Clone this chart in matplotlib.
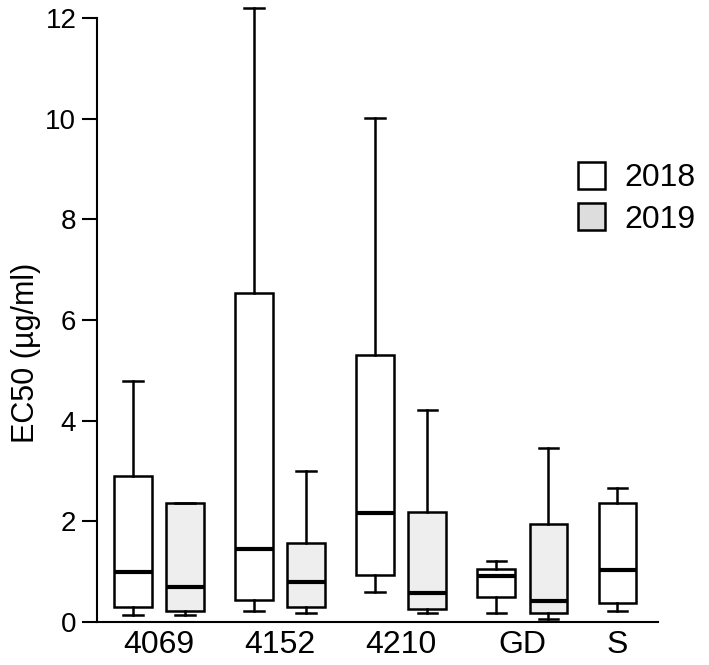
import matplotlib.pyplot as plt
from matplotlib.patches import Patch

plt.rcParams['font.family'] = ['Liberation Sans', 'DejaVu Sans']

groups = ['4069', '4152', '4210', 'GD', 'S']
# 2018 boxes (all five groups)
low_2018 = [0.13, 0.22, 0.60, 0.17, 0.22]
q1_2018 = [0.29, 0.43, 0.93, 0.50, 0.38]
med_2018 = [0.99, 1.46, 2.17, 0.91, 1.03]
q3_2018 = [2.91, 6.54, 5.31, 1.05, 2.36]
high_2018 = [4.79, 12.2, 10.02, 1.22, 2.66]
# 2019 boxes (no S)
low_2019 = [0.13, 0.17, 0.17, 0.05]
q1_2019 = [0.21, 0.29, 0.25, 0.17]
med_2019 = [0.70, 0.79, 0.58, 0.41]
q3_2019 = [2.36, 1.56, 2.19, 1.94]
high_2019 = [2.36, 3.0, 4.21, 3.45]


def make_stats(lo, q1, med, q3, hi):
    return [dict(whislo=a, q1=b, med=c, q3=d, whishi=e, fliers=[])
            for a, b, c, d, e in zip(lo, q1, med, q3, hi)]


fig = plt.figure(figsize=(7.09, 6.65), dpi=100)
ax = fig.add_axes([0.137, 0.0647, 0.791, 0.908])

off = 0.215
pos_2018 = [i - off for i in range(len(groups))]
pos_2019 = [i + off for i in range(len(low_2019))]

common = dict(widths=0.31, patch_artist=True, showfliers=False,
              whiskerprops=dict(color='black', lw=1.8),
              capprops=dict(color='black', lw=1.8),
              medianprops=dict(color='black', lw=3.0),
              capwidths=0.16)
b1 = ax.bxp(make_stats(low_2018, q1_2018, med_2018, q3_2018, high_2018),
            positions=pos_2018,
            boxprops=dict(facecolor='white', edgecolor='black', lw=1.8), **common)
b2 = ax.bxp(make_stats(low_2019, q1_2019, med_2019, q3_2019, high_2019),
            positions=pos_2019,
            boxprops=dict(facecolor='#eeeeee', edgecolor='black', lw=1.8), **common)
for b in (b1, b2):
    for k in ('whiskers', 'caps', 'medians', 'boxes'):
        for a in b[k]:
            a.set_clip_on(False)

ax.set_xlim(-0.51, 4.12)
ax.set_ylim(0, 12)
ax.set_yticks(range(0, 13, 2))
tick_pos = [i for i in range(4)] + [4 - off]
ax.set_xticks(tick_pos)
ax.set_xticklabels(groups)
ax.tick_params(axis='x', length=0, labelsize=23, pad=6)
ax.tick_params(axis='y', length=11, width=1.5, labelsize=20, pad=4)
for s in ('top', 'right'):
    ax.spines[s].set_visible(False)
for s in ('left', 'bottom'):
    ax.spines[s].set_linewidth(1.5)
ax.set_ylabel('EC50 (µg/ml)', fontsize=22)
ax.yaxis.set_label_coords(-0.10, 0.445)

handles = [Patch(facecolor='white', edgecolor='black', lw=1.8, label='2018'),
           Patch(facecolor='#dddddd', edgecolor='black', lw=1.8, label='2019')]
fig.legend(handles=handles, loc='upper left', bbox_to_anchor=(578 / 709, 1 - 162 / 665),
           frameon=False, fontsize=23, handlelength=0.85, handleheight=0.9,
           handletextpad=0.6, labelspacing=0.32, borderpad=0, borderaxespad=0)

fig.savefig('out.png', dpi=100)
